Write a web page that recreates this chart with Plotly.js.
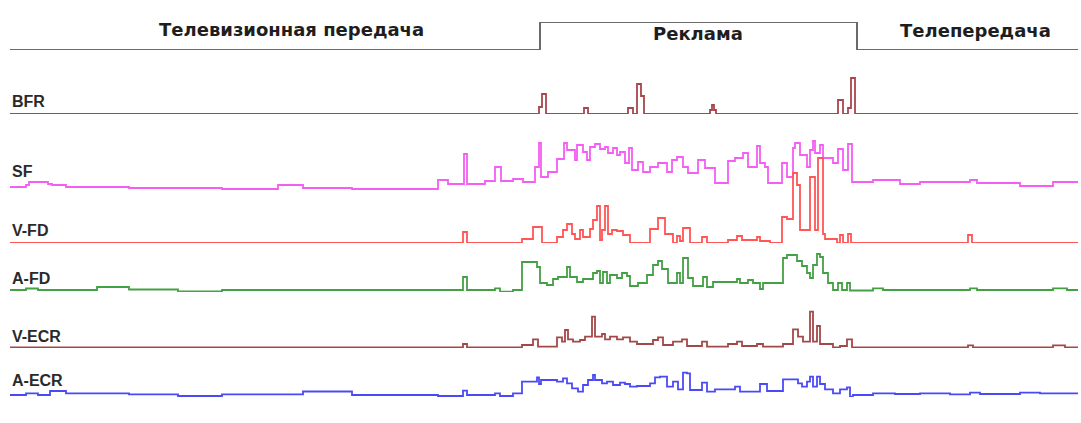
<!DOCTYPE html>
<html>
<head>
<meta charset="utf-8">
<script src="https://cdn.plot.ly/plotly-3.0.1.min.js"></script>
<style>html,body{margin:0;padding:0;background:#fff;}#chart{width:1081px;height:423px;}</style>
</head>
<body>
<div id="chart"></div>
<script>
// Segment indicator (0 = programme, 1 = advertising)
const segT = [10, 540, 857, 1078];
const segV = [0, 1, 0, 0];
const segLabels = ["Телевизионная передача", "Реклама", "Телепередача"];
const seriesNames = ["BFR", "SF", "V-FD", "A-FD", "V-ECR", "A-ECR"];

const bfrT = [10,539,542,546,584,588,628,633,637,641,644,710,712,714,716,838,843,848,851,855,1078];
const bfrV = [0,7,20,0,6,0,6,0,30,18,0,4,9,4,0,14,0,6,36,0,0];

const sfT = [10,26,29,48,52,66,129,222,278,303,352,438,448,464,467,485,495,501,513,523,535,539,541,548,557,564,567,575,577,583,587,590,595,600,605,608,613,617,620,625,629,632,638,643,650,658,667,672,677,683,688,698,705,715,728,735,743,748,757,760,765,768,782,787,793,795,800,807,810,813,815,820,823,833,838,843,848,852,873,900,920,970,977,1020,1053,1078];
const sfV = [3,5,8,6,5,3,2,1,5,2,1,10,6,36,6,9,23,9,11,8,23,47,13,18,31,47,40,30,45,38,30,43,46,41,43,37,42,35,38,27,42,20,28,18,23,27,18,30,33,23,17,30,22,7,29,32,37,23,44,27,23,7,27,13,42,47,35,23,40,49,37,45,32,27,41,20,46,8,10,6,8,10,7,4,8,8];

const vfdT = [10,463,467,522,533,542,557,563,567,572,575,580,583,590,593,597,600,602,605,608,612,617,623,630,650,658,665,673,677,680,683,690,702,707,728,737,742,757,760,770,782,787,793,797,800,810,815,818,823,825,837,840,843,848,851,968,972,1078];
const vfdV = [0,11,0,4,16,0,6,13,19,9,4,13,6,14,23,37,3,13,37,9,13,12,8,0,14,25,9,0,7,2,15,0,6,0,3,7,3,6,2,0,26,24,70,58,13,66,13,85,9,4,0,8,0,9,0,8,0,0];

const afdT = [10,26,38,97,129,178,222,463,467,495,500,513,522,537,540,547,553,558,567,570,577,583,593,597,600,603,607,610,617,622,627,630,638,647,653,658,662,668,677,680,683,688,693,703,707,713,737,740,748,753,760,763,783,787,797,802,807,810,813,817,820,823,828,833,838,842,847,850,873,883,970,977,1053,1067,1078];
const afdV = [2,3.5,2,5,2.5,0.5,2,15,2,3.7,0.3,2,30,25,9,7,13,15,25,15,10,13,19,21,9,20,9,17,14,19,16,6,9,17,27,31,23,9,19,9,34,14,6,15,5,10,13,9,12,9,3,9,34,37,31,26,19,14,27,38,35,19,9,2,9,2,9,1.5,3.7,2,3.7,2,3.7,2,2];

const vecrT = [10,463,467,522,533,538,557,562,565,568,573,580,585,592,595,602,605,610,617,623,630,637,653,658,663,673,682,687,702,707,728,737,742,757,763,783,793,798,803,810,813,817,820,833,840,847,852,968,973,1053,1065,1078];
const vecrV = [0.7,4,0.7,3,8.7,1.3,10.7,6.3,18,8.7,6.3,8,11.3,31.3,11.3,14,8.7,11.3,8.7,10.7,6.3,4,8,10.7,3,6.3,8.7,2,6.3,1.3,4,6.3,2,4,1.3,4,18.7,11.3,6.3,36.3,6.3,22,4,0.7,2,8.7,0.7,2.7,0.7,2.7,0.7,0.7];

const aecrT = [10,26,38,50,66,129,178,222,303,352,438,463,467,495,500,513,522,537,539,541,557,563,567,572,578,583,588,593,595,602,607,613,620,625,630,637,650,655,660,667,673,678,683,687,690,702,707,715,735,740,760,767,783,798,802,807,810,813,817,820,825,833,840,847,850,853,873,895,920,950,970,980,1020,1040,1078];
const aecrV = [2,3.7,2,6,3.7,2.7,1,2.7,5.5,2,1,6.3,2,3.7,1,3.7,15.3,19.7,13,17,15.3,18.7,13.7,8.7,5.3,12,17,22,17,13.7,15.3,12,14.3,13,10.3,11,13.7,19.7,20.3,10.3,15.3,7.7,24.3,23.7,7,14.3,5.3,7.7,10.3,5.3,13,6,17.7,13.7,10.3,15.3,20.3,10.3,20.3,13,7.7,3.7,7.7,9.7,0.3,2,3.7,3,3.7,2.7,4.3,3,4.3,3.7,3.7];

const H = 423;
function dom(zeroPx, topPx){ return [(H - zeroPx)/H, (H - topPx)/H]; }
function hidden(extra){ return Object.assign({visible:false, showgrid:false, zeroline:false, fixedrange:true}, extra); }

const bands = [
  {t:segT,  v:segV,  color:'#6a6a6a', w:2,   ax:'y',  zero:50,  top:22,  range:[0,1]},
  {t:bfrT,  v:bfrV,  color:'#a9454d', w:1.8, ax:'y2', zero:114, top:70,  range:[0,44]},
  {t:sfT,   v:sfV,   color:'#f45ef4', w:1.8, ax:'y3', zero:190, top:135, range:[0,55]},
  {t:vfdT,  v:vfdV,  color:'#ff5656', w:1.8, ax:'y4', zero:243, top:150, range:[0,93]},
  {t:afdT,  v:afdV,  color:'#44a044', w:1.8, ax:'y5', zero:292, top:245, range:[0,47]},
  {t:vecrT, v:vecrV, color:'#a34848', w:1.8, ax:'y6', zero:348, top:305, range:[0,43]},
  {t:aecrT, v:aecrV, color:'#4a4af5', w:1.8, ax:'y7', zero:397, top:365, range:[0,32]}
];

const data = bands.map(b => ({
  x: b.t, y: b.v, type:'scatter', mode:'lines',
  line:{shape:'hv', color:b.color, width:b.w},
  xaxis:'x', yaxis:b.ax, hoverinfo:'skip', showlegend:false, cliponaxis:false
}));

const layout = {
  width:1081, height:423,
  margin:{l:0, r:0, t:0, b:0, pad:0},
  paper_bgcolor:'#ffffff', plot_bgcolor:'rgba(0,0,0,0)',
  showlegend:false,
  xaxis: hidden({range:[0,1081], domain:[0,1], anchor:'y'}),
  annotations:[]
};
bands.forEach((b,i) => {
  const key = i === 0 ? 'yaxis' : 'yaxis' + (i+1);
  layout[key] = hidden({range:b.range, domain:dom(b.zero, b.top), anchor:'x'});
});

// segment labels
const segLabelX = [291, 698, 975];
const segLabelY = [30, 33, 31];
segLabels.forEach((s,i) => layout.annotations.push({
  text:s, xref:'paper', yref:'paper', x:segLabelX[i]/1081, y:(H-segLabelY[i])/H,
  xanchor:'center', yanchor:'middle', showarrow:false,
  font:{family:'DejaVu Sans', size:18, color:'#1e1e1e', weight:'bold'}
}));
// series labels
const nameY = [101, 171, 230, 278, 336, 380];
seriesNames.forEach((s,i) => layout.annotations.push({
  text:'<b>'+s+'</b>', xref:'paper', yref:'paper', x:10/1081, y:(H-nameY[i])/H,
  xanchor:'left', yanchor:'middle', showarrow:false,
  font:{family:'Liberation Sans', size:16, color:'#2a2a2a'}
}));

Plotly.newPlot('chart', data, layout, {staticPlot:true, displayModeBar:false});
</script>
</body>
</html>
